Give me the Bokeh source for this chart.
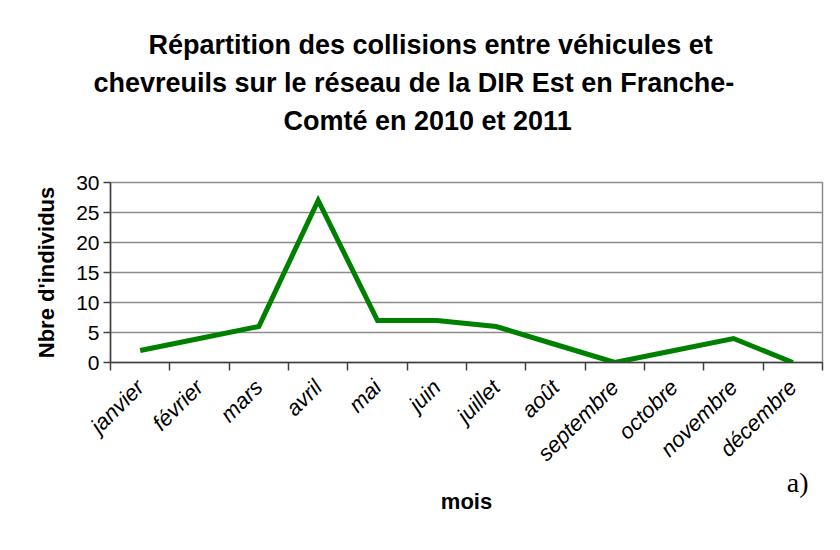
from math import pi
from bokeh.plotting import figure
from bokeh.models import Range1d, LinearAxis, FixedTicker, Title
from bokeh.embed import file_html
from bokeh.resources import INLINE

months = ["janvier", "février", "mars", "avril", "mai", "juin", "juillet",
          "août", "septembre", "octobre", "novembre", "décembre"]
values = [2, 4, 6, 27, 7, 7, 6, 3, 0, 2, 4, 0]
y_ticks = [0, 5, 10, 15, 20, 25, 30]
title_lines = ["Répartition des collisions entre véhicules et",
               "chevreuils sur le réseau de la DIR Est en Franche-",
               "Comté en 2010 et 2011"]
title_offsets = [38, -17, 173]
x_title = "mois"
y_title = "Nbre d'individus"
panel_tag = "a)"

FONT = "Liberation Sans"

# category slots: month i occupies [i, i+1], drawn at its centre
centres = [i + 0.5 for i in range(len(months))]
bounds = list(range(len(months) + 1))

p = figure(width=824, height=534, output_backend="svg", toolbar_location=None,
           x_range=Range1d(0, len(months)), y_range=Range1d(0, 30),
           x_axis_location=None, y_axis_location=None,
           min_border_left=110, min_border_right=2, min_border_top=182,
           min_border_bottom=172)
p.background_fill_color = "white"
p.border_fill_color = "white"
p.outline_line_color = "#8c8c8c"
p.outline_line_width = 1.5

x_axis = LinearAxis(ticker=FixedTicker(ticks=centres, minor_ticks=bounds),
                    major_label_overrides={c: m for c, m in zip(centres, months)},
                    major_label_orientation=pi / 4,
                    major_label_standoff=13,
                    major_label_text_font=FONT,
                    major_label_text_font_style="italic",
                    major_label_text_font_size="22px",
                    major_label_text_color="black",
                    major_tick_out=0, major_tick_in=0,
                    minor_tick_out=8, minor_tick_in=0,
                    axis_line_color="#404040", axis_line_width=1.5,
                    minor_tick_line_color="#404040", minor_tick_line_width=1.5)
p.add_layout(x_axis, "below")

# panel tag and x title stacked below the axis
p.add_layout(Title(text=panel_tag, align="right", offset=14, standoff=-40,
                   text_font="Liberation Serif", text_font_size="28px",
                   text_font_style="normal", text_color="black"), "below")
p.add_layout(Title(text=x_title, align="center", standoff=18,
                   text_font=FONT, text_font_size="22px",
                   text_font_style="bold", text_color="black"), "below")

y_axis = LinearAxis(ticker=FixedTicker(ticks=y_ticks),
                    axis_label=y_title, axis_label_text_font=FONT,
                    axis_label_text_font_style="bold",
                    axis_label_text_font_size="22px",
                    axis_label_text_color="black",
                    axis_label_standoff=14,
                    major_label_text_font=FONT,
                    major_label_text_font_size="21px",
                    major_label_text_color="black",
                    major_label_standoff=4,
                    major_tick_out=7, major_tick_in=0,
                    minor_tick_out=0, minor_tick_in=0,
                    axis_line_color="#404040", axis_line_width=1.5,
                    major_tick_line_color="#404040", major_tick_line_width=1.5)
p.add_layout(y_axis, "left")

p.xgrid.visible = False
p.ygrid.ticker = FixedTicker(ticks=y_ticks)
p.ygrid.grid_line_color = "#8c8c8c"
p.ygrid.grid_line_width = 1.5

p.line(x=centres, y=values, line_color="#008000", line_width=5, line_join="miter")

# gap between the frame and the title block
p.add_layout(Title(text=" ", text_font_size="2px", standoff=40), "above")
# title lines stacked above (first added = closest to the frame)
for t, off in reversed(list(zip(title_lines, title_offsets))):
    p.add_layout(Title(text=t, align="left", offset=off, standoff=6,
                       text_font=FONT, text_font_style="bold",
                       text_font_size="27px", text_color="black"), "above")

open("out.html", "w").write(file_html(p, INLINE))
